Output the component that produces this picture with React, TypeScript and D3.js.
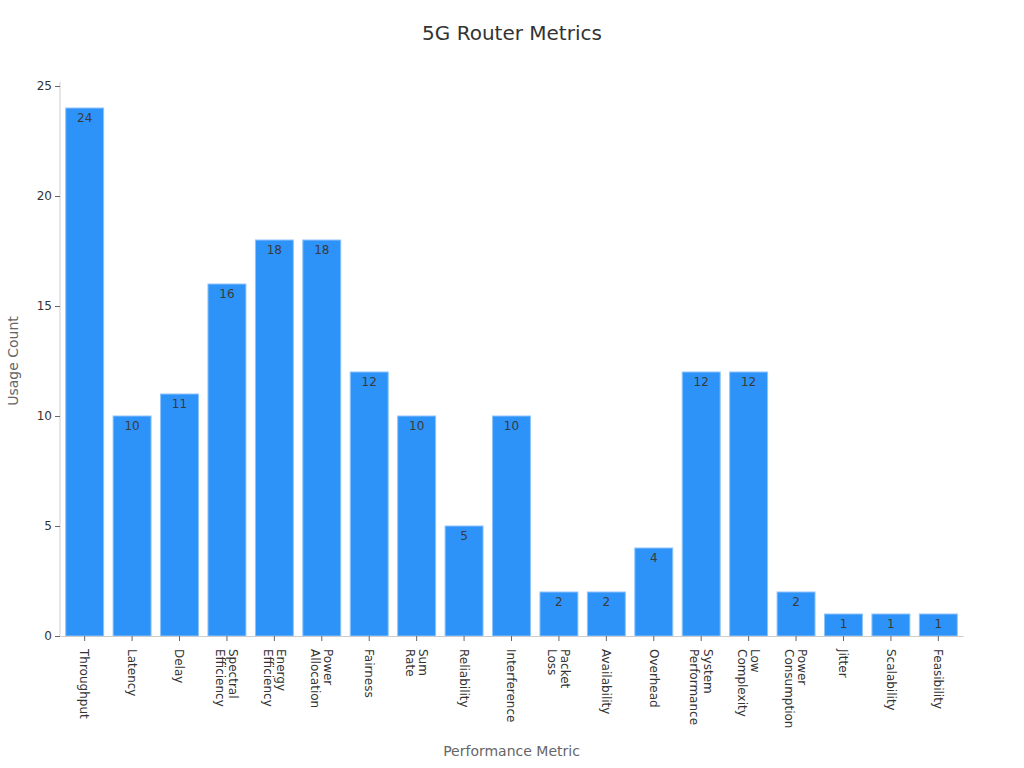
import React, { useEffect, useRef } from "react"
import * as d3 from "d3"

const metrics = [
	"Throughput",
	"Latency",
	"Delay",
	"Spectral Efficiency",
	"Energy Efficiency",
	"Power Allocation",
	"Fairness",
	"Sum Rate",
	"Reliability",
	"Interference",
	"Packet Loss",
	"Availability",
	"Overhead",
	"System Performance",
	"Low Complexity",
	"Power Consumption",
	"Jitter",
	"Scalability",
	"Feasibility",
]
const usageCounts = [24, 10, 11, 16, 18, 18, 12, 10, 5, 10, 2, 2, 4, 12, 12, 2, 1, 1, 1]
const yTicks = [0, 5, 10, 15, 20, 25]

const App: React.FC = () => {
	const ref = useRef<SVGSVGElement>(null)

	useEffect(() => {
		const width = 1024
		const height = 768
		const margin = { top: 86, right: 61, bottom: 132, left: 60 }
		const innerWidth = width - margin.left - margin.right
		const innerHeight = height - margin.top - margin.bottom

		const svg = d3.select(ref.current)
		svg.selectAll("*").remove()

		const font = "'DejaVu Sans', sans-serif"

		const x_scale = d3
			.scaleBand()
			.domain(metrics)
			.range([0, innerWidth])
			.paddingInner(0.2)
			.paddingOuter(0.12)
		const y_scale = d3.scaleLinear().domain([0, 25]).range([innerHeight, 0])

		svg
			.append("text")
			.attr("x", width / 2)
			.attr("y", 40)
			.attr("text-anchor", "middle")
			.attr("font-family", font)
			.attr("font-size", 20)
			.attr("fill", "#333")
			.text("5G Router Metrics")

		const g = svg
			.append("g")
			.attr("transform", `translate(${margin.left},${margin.top})`)

		// y axis
		const yAxis = g
			.append("g")
			.call(d3.axisLeft(y_scale).tickValues(yTicks).tickSize(5).tickSizeOuter(0))
		yAxis.select(".domain").attr("stroke", "#ccc").attr("d", `M0,${innerHeight}V-4`)
		yAxis.selectAll(".tick line").attr("stroke", "#666")
		yAxis
			.selectAll(".tick text")
			.attr("font-family", font)
			.attr("font-size", 12)
			.attr("fill", "#333")

		// bars
		g.selectAll(".bar")
			.data(usageCounts)
			.join("rect")
			.attr("class", "bar")
			.attr("x", (d, i) => x_scale(metrics[i])!)
			.attr("y", (d) => y_scale(d))
			.attr("width", x_scale.bandwidth())
			.attr("height", (d) => innerHeight - y_scale(d))
			.attr("fill", "#2e93f8")
			.attr("stroke", "#8cc4fb")
			.attr("stroke-width", 1)

		g.selectAll(".bar-label")
			.data(usageCounts)
			.join("text")
			.attr("class", "bar-label")
			.attr("x", (d, i) => x_scale(metrics[i])! + x_scale.bandwidth() / 2)
			.attr("y", (d) => y_scale(d) + 14)
			.attr("text-anchor", "middle")
			.attr("font-family", font)
			.attr("font-size", 12)
			.attr("fill", "#3a3a3a")
			.text((d) => d)

		// x axis
		const xAxis = g
			.append("g")
			.attr("transform", `translate(0,${innerHeight})`)
			.call(d3.axisBottom(x_scale).tickSize(5).tickSizeOuter(0))
		xAxis.select(".domain").attr("stroke", "#ccc")
		xAxis.selectAll(".tick line").attr("stroke", "#666")
		xAxis.selectAll(".tick text").remove()
		xAxis.selectAll(".tick").each(function (d) {
			const words = String(d).split(" ")
			const t = d3
				.select(this)
				.append("text")
				.attr("transform", "translate(0,13) rotate(90)")
				.attr("text-anchor", "start")
				.attr("font-family", font)
				.attr("font-size", 12)
				.attr("fill", "#333")
			const shift = -(words.length - 1) * 0.55
			words.forEach((w, i) => {
				t.append("tspan")
					.attr("x", 0)
					.attr("y", 0)
					.attr("dy", `${shift + i * 1.1 + 0.35}em`)
					.text(w)
			})
		})

		// axis titles
		svg
			.append("text")
			.attr("transform", `translate(18,${margin.top + innerHeight / 2}) rotate(-90)`)
			.attr("text-anchor", "middle")
			.attr("font-family", font)
			.attr("font-size", 14)
			.attr("fill", "#666")
			.text("Usage Count")

		svg
			.append("text")
			.attr("x", margin.left + innerWidth / 2)
			.attr("y", 756)
			.attr("text-anchor", "middle")
			.attr("font-family", font)
			.attr("font-size", 14)
			.attr("fill", "#666")
			.text("Performance Metric")
	}, [])

	return (
		<svg
			ref={ref}
			width={1024}
			height={768}
			style={{ position: "absolute", left: 0, top: 0, background: "#fff" }}
		/>
	)
}

export default App
